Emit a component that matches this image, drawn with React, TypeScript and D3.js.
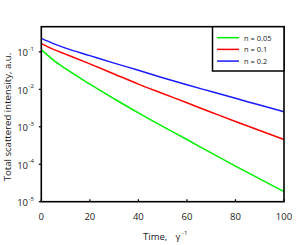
import React from "react";
import * as d3 from "d3";

const times = [0, 5, 10, 20, 30, 40, 50, 60, 70, 80, 90, 100];
const seriesNames = ["n = 0.05", "n = 0.1", "n = 0.2"];
const seriesColors = ["#00f000", "#ff0000", "#1a1aff"];
const greenValues = [0.115, 0.0603, 0.0355, 0.0138, 0.00562, 0.00234, 0.00102, 0.000457, 0.0002, 0.0000891, 0.0000407, 0.0000186];
const redValues = [0.166, 0.117, 0.0871, 0.0479, 0.0257, 0.0138, 0.00776, 0.00437, 0.00245, 0.00138, 0.000794, 0.000457];
const blueValues = [0.229, 0.166, 0.126, 0.0794, 0.0501, 0.0324, 0.0204, 0.0132, 0.00871, 0.00575, 0.0038, 0.00251];
const xTicks = [0, 20, 40, 60, 80, 100];
const yTickExps = [-1, -2, -3, -4, -5];

export default function App() {
  const W = 298, H = 245;
  const L = 41.3, R = 284, T = 26.7, B = 201.7;
  const x = d3.scaleLinear().domain([0, 100]).range([L, R]);
  const y = d3.scaleLog().domain([1e-5, 0.47]).range([B, T]);
  const all = [greenValues, redValues, blueValues];
  const line = d3
    .line<number>()
    .x((_, i) => x(times[i]))
    .y((d) => y(d))
    .curve(d3.curveMonotoneX);
  const font = "'Open Sans', 'DejaVu Sans', sans-serif";
  return (
    <svg width={W} height={H} style={{ position: "absolute", left: 0, top: 0, background: "#fff" }} fontFamily={font}>
      <rect x={0} y={0} width={W} height={H} fill="#fff" />
      {all.map((vals, k) => (
        <path key={k} d={line(vals) || ""} fill="none" stroke={seriesColors[k]} strokeWidth={1.5} />
      ))}
      <rect x={L} y={T} width={R - L} height={B - T} fill="none" stroke="#000" strokeWidth={1.6} />
      {xTicks.map((t) => (
        <g key={t}>
          <line x1={x(t)} x2={x(t)} y1={B} y2={B - 2.5} stroke="#000" strokeWidth={1.2} />
          <text x={x(t)} y={220} fontSize={9.5} textAnchor="middle" fill="#222">{t}</text>
        </g>
      ))}
      {yTickExps.map((e) => (
        <g key={e}>
          <line x1={L} x2={L - 2.5} y1={y(Math.pow(10, e))} y2={y(Math.pow(10, e))} stroke="#000" strokeWidth={1.2} />
          <text x={28} y={y(Math.pow(10, e)) + 4.5} fontSize={9.5} textAnchor="end" fill="#222">10</text>
          <text x={28.5} y={y(Math.pow(10, e)) - 1} fontSize={6} textAnchor="start" fill="#222">{e}</text>
        </g>
      ))}
      <text x={143} y={240} fontSize={9.5} fill="#222">Time,</text>
      <text x={175.5} y={240} fontSize={9.5} fill="#222">γ</text>
      <text x={182} y={235} fontSize={6} fill="#222">-1</text>
      <text transform={`translate(10.5, 117) rotate(-90)`} fontSize={9.6} textAnchor="middle" fill="#222">
        Total scattered intensity, a.u.
      </text>
      <rect x={212.5} y={T} width={R - 212.5} height={71 - T} fill="#fff" stroke="#000" strokeWidth={1.5} />
      {seriesNames.map((n, k) => (
        <g key={n}>
          <line x1={217} x2={239} y1={37.7 + k * 11.7} y2={37.7 + k * 11.7} stroke={seriesColors[k]} strokeWidth={1.5} />
          <text x={244} y={37.7 + k * 11.7 + 3} fontSize={7.5} fill="#222">{n}</text>
        </g>
      ))}
    </svg>
  );
}
